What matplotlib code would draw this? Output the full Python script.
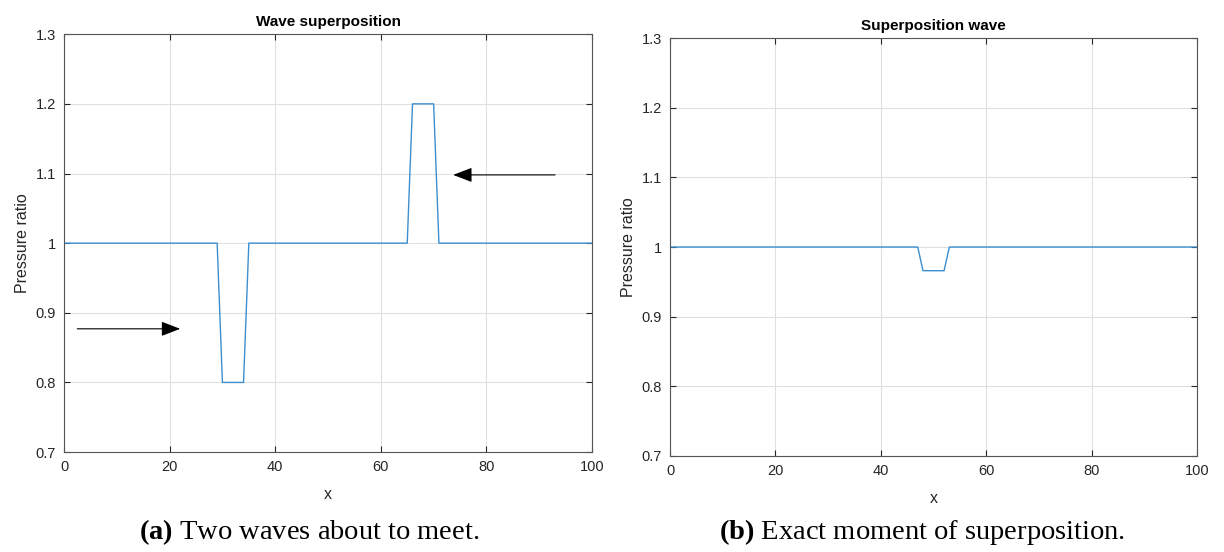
import numpy as np
import matplotlib
matplotlib.use("Agg")
import matplotlib.pyplot as plt

# wave profiles
x_a = [0, 29, 30, 34, 35, 65, 66, 70, 71, 100]
p_a = [1, 1, 0.8, 0.8, 1, 1, 1.2, 1.2, 1, 1]

x_b = [0, 47, 48, 52, 53, 100]
p_b = [1, 1, 0.966, 0.966, 1, 1]

# arrows showing direction of travel (tail -> head)
arrows_a = [((2.5, 0.877), (22.0, 0.877)),
            ((93.0, 1.098), (73.7, 1.098))]

xticks = [0, 20, 40, 60, 80, 100]
yticks = [0.7, 0.8, 0.9, 1.0, 1.1, 1.2, 1.3]
ytick_labels = ['0.7', '0.8', '0.9', '1', '1.1', '1.2', '1.3']

captions = [r'$\mathbf{(a)}$ Two waves about to meet.',
            r'$\mathbf{(b)}$ Exact moment of superposition.']

line_col = '#3b8fd0'
axis_col = '#262626'

plt.rcParams['font.family'] = ['Liberation Sans', 'DejaVu Sans']
plt.rcParams['mathtext.fontset'] = 'custom'
plt.rcParams['mathtext.rm'] = 'Liberation Serif'
plt.rcParams['mathtext.bf'] = 'Liberation Serif:bold'

fig = plt.figure(figsize=(12.24, 5.52), dpi=100)
ax1 = fig.add_axes([0.0523, 0.181, 0.4314, 0.757])
ax2 = fig.add_axes([0.5474, 0.174, 0.4306, 0.757])


def style_axes(ax, title):
    ax.set_xlim(0, 100)
    ax.set_ylim(0.7, 1.3)
    ax.set_xticks(xticks)
    ax.set_yticks(yticks)
    ax.set_yticklabels(ytick_labels)
    ax.grid(True, color='#e0e0e0', linewidth=0.8)
    ax.set_axisbelow(True)
    ax.tick_params(direction='in', top=True, right=True, length=4,
                   labelsize=10.5, colors=axis_col, pad=6)
    for s in ax.spines.values():
        s.set_color('#555555')
        s.set_linewidth(0.8)
    ax.set_title(title, fontsize=11, fontweight='bold', pad=6)
    ax.set_xlabel('x', fontsize=11.5, color=axis_col, labelpad=9)
    ax.set_ylabel('Pressure ratio', fontsize=11.5, color=axis_col, labelpad=4)


ax1.plot(x_a, p_a, color=line_col, linewidth=1.0)
style_axes(ax1, 'Wave superposition')
for tail, head in arrows_a:
    ax1.annotate('', xy=head, xytext=tail,
                 arrowprops=dict(arrowstyle='-|>,head_length=0.65,head_width=0.25',
                                 color='black', lw=0.8,
                                 mutation_scale=18, shrinkA=0, shrinkB=0))

ax2.plot(x_b, p_b, color=line_col, linewidth=1.0)
style_axes(ax2, 'Superposition wave')

cap_font = ['Liberation Serif', 'DejaVu Serif']
fig.text(0.2529, 0.0236, captions[0], fontsize=20.5, ha='center', va='baseline',
         family=cap_font)
fig.text(0.7533, 0.0236, captions[1], fontsize=20.5, ha='center', va='baseline',
         family=cap_font)

fig.savefig('out.png', dpi=100)
